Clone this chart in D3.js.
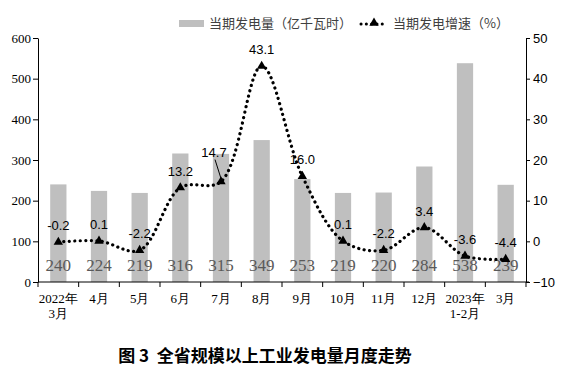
<!DOCTYPE html>
<html>
<head>
<meta charset="utf-8">
<script src="https://cdn.jsdelivr.net/npm/d3@7"></script>
<style>
  body { margin: 0; background: #fff; }
</style>
</head>
<body>
<svg id="chart" width="574" height="389"></svg>
<script>
// datos
const meses = ["2022年|3月", "4月", "5月", "6月", "7月", "8月", "9月", "10月", "11月", "12月", "2023年|1-2月", "3月"];
const generacion = [240, 224, 219, 316, 315, 349, 253, 219, 220, 284, 538, 239];
const crecimiento = [-0.2, 0.1, -2.2, 13.2, 14.7, 43.1, 16.0, 0.1, -2.2, 3.4, -3.6, -4.4];
const ticksIzq = [0, 100, 200, 300, 400, 500, 600];
const ticksDer = [-10, 0, 10, 20, 30, 40, 50];

const svg = d3.select("#chart");
const xIzq = 38, xDer = 526, yArriba = 38, yAbajo = 282;

const serif = "'Liberation Serif', 'Times New Roman', serif";
const sans = "'Liberation Sans', Arial, sans-serif";
const cjk = "'Noto Sans CJK SC', sans-serif";

// escalas
const x = d3.scaleBand().domain(meses).range([xIzq, xDer]);
const step = x.step();
const barW = step * 0.4;
const yL = d3.scaleLinear().domain([0, 600]).range([yAbajo, yArriba]);
const yR = d3.scaleLinear().domain([-10, 50]).range([yAbajo, yArriba]);
const cx = d => x(d) + step / 2;

// barras
svg.append("g").selectAll("rect")
    .data(meses)
    .join("rect")
    .attr("x", d => cx(d) - barW / 2)
    .attr("y", (d, i) => yL(generacion[i]))
    .attr("width", barW)
    .attr("height", (d, i) => yL(0) - yL(generacion[i]))
    .attr("fill", "#bfbfbf");

// etiquetas de las barras
svg.append("g").selectAll("text")
    .data(meses)
    .join("text")
    .attr("x", d => cx(d))
    .attr("y", 271)
    .attr("text-anchor", "middle")
    .attr("font-family", serif)
    .attr("font-size", 17)
    .attr("fill", "#595959")
    .text((d, i) => generacion[i]);

// eje izquierdo
const axL = svg.append("g")
    .attr("transform", `translate(${xIzq},0)`)
    .call(d3.axisLeft(yL).tickValues(ticksIzq).tickSize(5).tickPadding(2).tickSizeOuter(0));
axL.attr("font-family", serif);
axL.selectAll("text").attr("font-family", serif).attr("font-size", 13).attr("fill", "#000");

// eje derecho
const axR = svg.append("g")
    .attr("transform", `translate(${xDer},0)`)
    .call(d3.axisRight(yR).tickValues(ticksDer).tickSize(4).tickPadding(3).tickSizeOuter(0));
axR.selectAll("text").attr("font-family", sans).attr("font-size", 13).attr("fill", "#000");

svg.selectAll(".domain").attr("stroke", "#000");
svg.selectAll(".tick line").attr("stroke", "#000");

// eje x
const gx = svg.append("g");
gx.append("line")
    .attr("x1", xIzq).attr("x2", xDer + 3)
    .attr("y1", yAbajo).attr("y2", yAbajo)
    .attr("stroke", "#000");
gx.selectAll(".xt")
    .data(meses.concat([null]))
    .join("line")
    .attr("class", "xt")
    .attr("x1", d => d === null ? xDer : x(d))
    .attr("x2", d => d === null ? xDer : x(d))
    .attr("y1", yAbajo).attr("y2", yAbajo + 5)
    .attr("stroke", "#000");

const xl = gx.selectAll(".xl")
    .data(meses)
    .join("text")
    .attr("class", "xl")
    .attr("text-anchor", "middle")
    .attr("font-family", serif)
    .attr("font-size", 13)
    .attr("fill", "#000");
xl.each(function(d) {
    const partes = d.split("|");
    d3.select(this).selectAll("tspan")
        .data(partes)
        .join("tspan")
        .attr("x", cx(d))
        .attr("y", (p, j) => 303 + j * 15)
        .text(p => p);
});

// línea suavizada punteada
const linea = d3.line()
    .x((d, i) => cx(meses[i]))
    .y(d => yR(d))
    .curve(d3.curveCatmullRom.alpha(0.5));

svg.append("path")
    .datum(crecimiento)
    .attr("d", linea)
    .attr("fill", "none")
    .attr("stroke", "#000")
    .attr("stroke-width", 3.2)
    .attr("stroke-linecap", "round")
    .attr("stroke-dasharray", "0.1 5.4");

const tri = d3.symbol(d3.symbolTriangle, 38);
svg.append("g").selectAll("path")
    .data(crecimiento)
    .join("path")
    .attr("d", tri)
    .attr("transform", (d, i) => `translate(${cx(meses[i])},${yR(d)})`)
    .attr("fill", "#000");

// etiquetas de la línea
svg.append("g").selectAll("text")
    .data(crecimiento)
    .join("text")
    .attr("x", (d, i) => i === 4 ? cx(meses[i]) - 7 : cx(meses[i]))
    .attr("y", (d, i) => i === 4 ? yR(d) - 25 : yR(d) - 12)
    .attr("text-anchor", "middle")
    .attr("font-family", sans)
    .attr("font-size", 13)
    .attr("fill", "#000")
    .text(d => d.toFixed(1));

// línea guía de 14.7
svg.append("line")
    .attr("x1", cx(meses[4]) - 6).attr("y1", yR(crecimiento[4]) - 22)
    .attr("x2", cx(meses[4])).attr("y2", yR(crecimiento[4]) - 3)
    .attr("stroke", "#000")
    .attr("stroke-width", 1);

// leyenda
const ley = svg.append("g");
ley.append("rect")
    .attr("x", 179).attr("y", 20).attr("width", 25).attr("height", 7)
    .attr("fill", "#bfbfbf");
ley.append("text")
    .attr("x", 209).attr("y", 28)
    .attr("font-family", cjk).attr("font-size", 13).attr("fill", "#404040")
    .text("当期发电量（亿千瓦时）");
ley.append("line")
    .attr("x1", 361).attr("x2", 387).attr("y1", 24).attr("y2", 24)
    .attr("stroke", "#000").attr("stroke-width", 3)
    .attr("stroke-linecap", "round").attr("stroke-dasharray", "0.1 5.2");
ley.append("path")
    .attr("d", tri)
    .attr("transform", "translate(374,23)")
    .attr("fill", "#000");
ley.append("text")
    .attr("x", 393).attr("y", 28)
    .attr("font-family", cjk).attr("font-size", 13).attr("fill", "#404040")
    .text("当期发电增速（%）");

// título
svg.append("text")
    .attr("x", 265).attr("y", 362)
    .attr("text-anchor", "middle")
    .attr("font-family", cjk)
    .attr("font-weight", "bold")
    .attr("font-size", 17)
    .attr("fill", "#000")
    .attr("xml:space", "preserve")
    .text("图 3  全省规模以上工业发电量月度走势");
</script>
</body>
</html>
